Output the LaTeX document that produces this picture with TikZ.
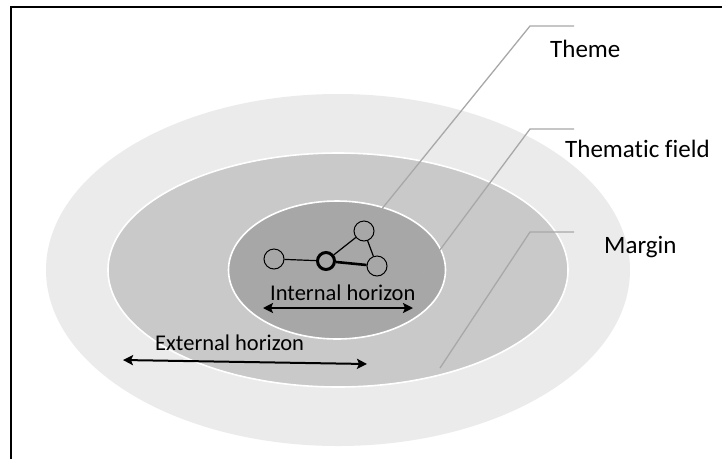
\documentclass[tikz,border=0pt]{standalone}
\usepackage{fontspec}
\setmainfont{Carlito}[Ligatures=NoCommon]
\usetikzlibrary{shapes.geometric,arrows.meta}
\definecolor{marginfill}{HTML}{EBEBEB}
\definecolor{fieldfill}{HTML}{C9C9C9}
\definecolor{themefill}{HTML}{A7A7A7}
\definecolor{leadergray}{HTML}{A8A8A8}
\begin{document}
\begin{tikzpicture}[x=1pt,y=-1pt,
  zone/.style={ellipse, inner sep=0pt, outer sep=0pt},
  gnode/.style={circle, draw=black, fill=themefill, line width=1pt, minimum size=20pt, inner sep=0pt},
  keynode/.style={gnode, line width=3pt, minimum size=17pt},
  edge/.style={line width=1.2pt},
  keyedge/.style={line width=2.6pt},
  leader/.style={draw=leadergray, line width=1.3pt},
  span/.style={line width=2pt, {Stealth[length=10pt,width=10pt,inset=2pt]}-{Stealth[length=10pt,width=10pt,inset=2pt]}},
  biglabel/.style={inner sep=0pt, anchor=base west, font=\fontsize{25}{30}\selectfont},
  smalllabel/.style={inner sep=0pt, anchor=base west, font=\fontsize{22.5}{27}\selectfont}]
\useasboundingbox (0,0) rectangle (722,459);

% frame (only the top and left edges lie inside the picture)
\draw[line width=2.6pt] (11,459) -- (11,7) -- (722,7);

% nested zones
\node[zone, fill=marginfill, minimum width=584pt, minimum height=352pt] (margin) at (338,270) {};
\node[zone, fill=fieldfill, draw=white, line width=1.6pt, minimum width=460pt, minimum height=234pt] (field) at (338,270) {};
\node[zone, fill=themefill, draw=white, line width=1.6pt, minimum width=217pt, minimum height=138pt] (theme) at (337,270) {};

% graph nodes inside the theme
\coordinate (g1) at (274,259);
\coordinate (g2) at (326,261);
\coordinate (g3) at (364,231);
\coordinate (g4) at (377,266);

% leader lines to the labels
\coordinate (lt1) at (574,26);  \coordinate (lt2) at (530,26);
\coordinate (lf1) at (574,129); \coordinate (lf2) at (530,129); \coordinate (lf3) at (390,317);
\coordinate (lm1) at (574,232); \coordinate (lm2) at (530,232); \coordinate (lm3) at (440,368);
\draw[leader] (lt1) -- (lt2) -- (g3);
\draw[leader] (lf1) -- (lf2) -- (lf3);
\draw[leader] (lm1) -- (lm2) -- (lm3);

\node[gnode] (n1) at (g1) {};
\node[keynode] (n2) at (g2) {};
\node[gnode] (n3) at (g3) {};
\node[gnode] (n4) at (g4) {};
\draw[edge] (n1) -- (n2);
\draw[edge] (n2) -- (n3);
\draw[edge] (n3) -- (n4);
\draw[keyedge] (n2) -- (n4);

% labels
\node[biglabel] (ltheme) at (550,57) {Theme};
\node[biglabel] (lfield) at (565,157) {Thematic field};
\node[biglabel] (lmargin) at (604,253) {Margin};
\node[smalllabel] (lint) at (270,300) {Internal horizon};
\node[smalllabel] (lext) at (155,350) {External horizon};

% horizon arrows
\coordinate (ia) at (263,308); \coordinate (ib) at (413,308);
\coordinate (ea) at (123,360); \coordinate (eb) at (367,364);
\draw[span] (ia) -- (ib);
\draw[span] (ea) -- (eb);
\end{tikzpicture}
\end{document}
